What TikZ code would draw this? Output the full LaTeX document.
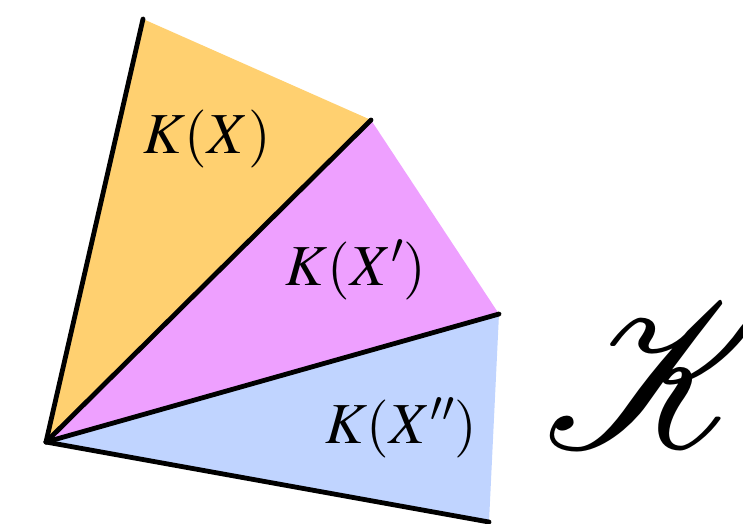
\documentclass[tikz,border=0pt]{standalone}
\usepackage{mathptmx}
\usepackage{mathrsfs}
\usepackage{graphicx}
\tikzset{
  sector/.style={draw=none},
  edge/.style={draw=black, line width=4.8pt, line cap=round},
  lbl/.style={inner sep=0pt, anchor=base, font=\fontsize{58}{58}\selectfont}
}
\begin{document}
\begin{tikzpicture}[x=1pt,y=-1pt]
\useasboundingbox (0,0) rectangle (743,523);
\coordinate (O) at (46,442);
\coordinate (A) at (143,19);
\coordinate (B) at (371,120);
\coordinate (C) at (499,314);
\coordinate (D) at (489,522);
\fill[sector, fill={rgb,255:red,255;green,208;blue,112}] (O) -- (A) -- (B) -- cycle;
\fill[sector, fill={rgb,255:red,238;green,160;blue,255}] (O) -- (B) -- (C) -- cycle;
\fill[sector, fill={rgb,255:red,192;green,212;blue,255}] (O) -- (C) -- (D) -- cycle;
\draw[edge] (O) -- (A);
\draw[edge] (O) -- (B);
\draw[edge] (O) -- (C);
\draw[edge] (O) -- (D);
\node[lbl] (l1) at (207,153) {$K(X)$};
\node[lbl] (l2) at (356,285) {$K(X')$};
\node[lbl] (l3) at (401,443) {$K(X'')$};
\begin{scope}
\clip (0,0) rectangle (743,523);
\node[inner sep=0pt, anchor=base west, font=\fontsize{20}{20}\selectfont] (k) at (543,447) {\scalebox{9.9}{$\mathscr{K}$}};
\end{scope}
\end{tikzpicture}
\end{document}
